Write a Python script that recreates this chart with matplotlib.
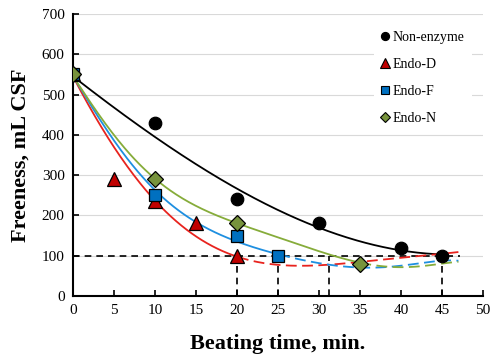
import numpy as np
import matplotlib
matplotlib.use("Agg")
import matplotlib.pyplot as plt
from matplotlib.lines import Line2D

plt.rcParams['font.family'] = ['Liberation Serif', 'DejaVu Serif']

# ---- measured data points ----
non_x = [0, 10, 20, 30, 40, 45]
non_y = [550, 430, 240, 180, 120, 100]
d_x = [0, 5, 10, 15, 20]
d_y = [550, 290, 235, 180, 100]
f_x = [0, 10, 20, 25]
f_y = [550, 250, 150, 100]
n_x = [0, 10, 20, 35]
n_y = [550, 290, 180, 80]

# ---- trend curves ----
non_cx = [0, 5, 10, 15, 20, 25, 30, 35, 40, 45]
non_cy = [545, 467, 396, 328, 266, 212, 168, 137, 115, 102]
d_cx = [0, 5, 10, 15, 20, 25, 30, 35, 40, 45, 47]
d_cy = [545, 370, 235, 152, 93, 80, 76, 84, 95, 105, 109]
f_cx = [0, 5, 10, 15, 20, 25, 30, 35, 40, 45, 47]
f_cy = [545, 390, 255, 188, 138, 100, 80, 73, 76, 85, 89]
n_cx = [0, 5, 10, 15, 20, 25, 30, 35, 40, 45, 47]
n_cy = [545, 400, 290, 225, 180, 145, 112, 82, 72, 80, 85]

ref_x = [20, 25, 31.2, 45]
ref_y = 100

labels = ['Non-enzyme', 'Endo-D', 'Endo-F', 'Endo-N']

def smooth(xs, ys, deg, n=300):
    xs = np.asarray(xs, float); ys = np.asarray(ys, float)
    c = np.polyfit(xs, ys, deg)
    xx = np.linspace(xs[0], xs[-1], n)
    return xx, np.polyval(c, xx)

fig = plt.figure(figsize=(4.91, 3.58), dpi=100)
ax = fig.add_axes([0.1487, 0.1732, 0.835, 0.7877])

ax.set_xlim(0, 50)
ax.set_ylim(0, 700)
ax.set_xticks(np.arange(0, 51, 5))
ax.set_yticks(np.arange(0, 701, 100))
ax.yaxis.grid(True, color='#D9D9D9', linewidth=0.8)
ax.set_axisbelow(True)
for s in ['top', 'right']:
    ax.spines[s].set_visible(False)
for s in ['left', 'bottom']:
    ax.spines[s].set_linewidth(1.5)
ax.tick_params(direction='in', length=4, width=1.2, labelsize=11, pad=6)

# reference dashed lines
ax.plot([0, 47.2], [ref_y, ref_y], color='black', lw=1.2, ls=(0, (4, 3)), zorder=2)
for xv in ref_x:
    ax.plot([xv, xv], [0, ref_y], color='black', lw=1.2, ls=(0, (4, 3)), zorder=2)

series = [
    (non_x, non_y, non_cx, non_cy, 'black', 'black', 'o', 9, 3),
    (d_x, d_y, d_cx, d_cy, '#E8231E', '#C00000', '^', 10, 6),
    (f_x, f_y, f_cx, f_cy, '#1E8FE0', '#0070C0', 's', 9, 6),
    (n_x, n_y, n_cx, n_cy, '#86AC3A', '#77933C', 'D', 8, 6),
]
for px, py, cx, cy, lc, mc, mk, ms, deg in series:
    xx, yy = smooth(cx, cy, deg)
    xend = px[-1]
    sol = xx <= xend
    ax.plot(xx[sol], yy[sol], color=lc, lw=1.3, zorder=3)
    if xx[-1] > xend:
        das = xx >= xend
        ax.plot(xx[das], yy[das], color=lc, lw=1.3, ls=(0, (6, 3)), zorder=3)

for px, py, cx, cy, lc, mc, mk, ms, deg in series:
    ax.plot(px, py, ls='none', marker=mk, markersize=ms, markerfacecolor=mc,
            markeredgecolor='black', markeredgewidth=0.9, zorder=5)

ax.set_xlabel('Beating time, min.', fontsize=16, fontweight='bold', labelpad=12)
ax.set_ylabel('Freeness, mL CSF', fontsize=16, fontweight='bold', labelpad=8)

handles = []
for (px, py, cx, cy, lc, mc, mk, ms, deg), lab in zip(series, labels):
    handles.append(Line2D([], [], ls='none', marker=mk, markersize=ms*0.65,
                          markerfacecolor=mc, markeredgecolor='black',
                          markeredgewidth=0.8, label=lab))
leg = ax.legend(handles=handles, loc='upper left',
                bbox_to_anchor=(367/491, 1 - 17/358), bbox_transform=fig.transFigure,
                fontsize=10, frameon=True, facecolor='white', edgecolor='none',
                framealpha=1, handlelength=0.6, handletextpad=0.25, labelspacing=1.0,
                borderpad=0.5, fancybox=False)
leg.get_frame().set_linewidth(0)

fig.savefig('out.png', dpi=100)
